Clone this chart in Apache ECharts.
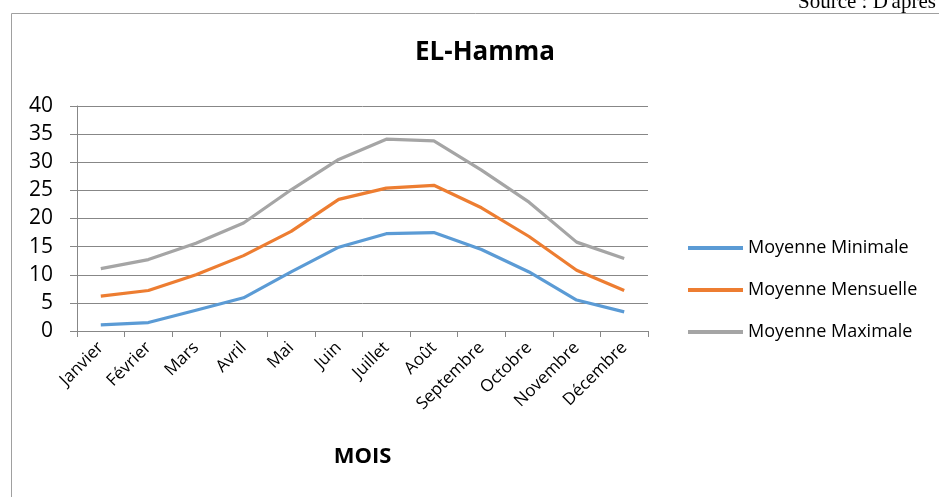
<!DOCTYPE html>
<html>
<head>
<meta charset="utf-8">
<script src="https://cdn.jsdelivr.net/npm/echarts@6/dist/echarts.min.js"></script>
<style>
  html, body { margin: 0; padding: 0; background: #fff; }
  #main { width: 939px; height: 497px; }
</style>
</head>
<body>
<div id="main"></div>
<script>
// données
var mois = ['Janvier', 'Février', 'Mars', 'Avril', 'Mai', 'Juin', 'Juillet', 'Août', 'Septembre', 'Octobre', 'Novembre', 'Décembre']
var moyMin = [1.1, 1.5, 3.7, 5.9, 10.5, 14.9, 17.3, 17.5, 14.5, 10.5, 5.5, 3.4]
var moyMens = [6.2, 7.2, 10.0, 13.4, 17.7, 23.4, 25.4, 25.9, 21.9, 16.8, 10.8, 7.2]
var moyMax = [11.1, 12.7, 15.6, 19.2, 25.1, 30.5, 34.1, 33.8, 28.6, 22.9, 15.8, 12.9]
var yTicks = [0, 5, 10, 15, 20, 25, 30, 35, 40]

var font = 'Open Sans'
var myChart = echarts.init(document.getElementById('main'))

function serie(name, data, color) {
  return {
    name: name,
    type: 'line',
    data: data,
    symbol: 'none',
    lineStyle: { color: color, width: 3.2 },
    itemStyle: { color: color }
  }
}

var option = {
  backgroundColor: '#fff',
  animation: false,
  title: {
    text: 'EL-Hamma',
    left: 480,
    textAlign: 'center',
    top: 35,
    textStyle: { fontFamily: font, fontSize: 26, fontWeight: 'bold', color: '#000' }
  },
  graphic: [
    {
      type: 'rect',
      shape: { x: 11.5, y: 13.5, width: 940, height: 500 },
      style: { fill: 'none', stroke: '#a0a0a0', lineWidth: 1 }
    },
    {
      type: 'text',
      left: 798,
      top: -8,
      style: { text: "Source : D'après", font: '21px "Liberation Serif"', fill: '#000' }
    }
  ],
  legend: {
    orient: 'vertical',
    left: 688,
    top: 237,
    padding: 0,
    itemWidth: 55,
    itemHeight: 4,
    itemGap: 20,
    icon: 'rect',
    textStyle: { fontFamily: font, fontSize: 18, color: '#000', lineHeight: 22 },
    data: ['Moyenne Minimale', 'Moyenne Mensuelle', 'Moyenne Maximale']
  },
  grid: { left: 77, right: 291, top: 106, bottom: 166, containLabel: false },
  xAxis: {
    type: 'category',
    data: mois,
    boundaryGap: true,
    name: 'MOIS',
    nameLocation: 'middle',
    nameGap: 115,
    nameTextStyle: { fontFamily: font, fontSize: 22, fontWeight: 'bold', color: '#000' },
    axisLine: { lineStyle: { color: '#878787', width: 1 } },
    axisTick: { show: true, length: 6, alignWithLabel: false, lineStyle: { color: '#878787' } },
    axisLabel: { rotate: 45, margin: 14, fontFamily: font, fontSize: 17, color: '#000', interval: 0 }
  },
  yAxis: {
    type: 'value',
    min: yTicks[0],
    max: yTicks[yTicks.length - 1],
    interval: 5,
    axisLine: { show: true, lineStyle: { color: '#878787', width: 1 } },
    axisTick: { show: true, length: 7, lineStyle: { color: '#878787' } },
    axisLabel: { margin: 24, fontFamily: font, fontSize: 21, color: '#000' },
    splitLine: { lineStyle: { color: '#878787', width: 1 } }
  },
  series: [
    serie('Moyenne Minimale', moyMin, '#5B9BD5'),
    serie('Moyenne Mensuelle', moyMens, '#ED7D31'),
    serie('Moyenne Maximale', moyMax, '#A5A5A5')
  ]
}
myChart.setOption(option)
</script>
</body>
</html>
